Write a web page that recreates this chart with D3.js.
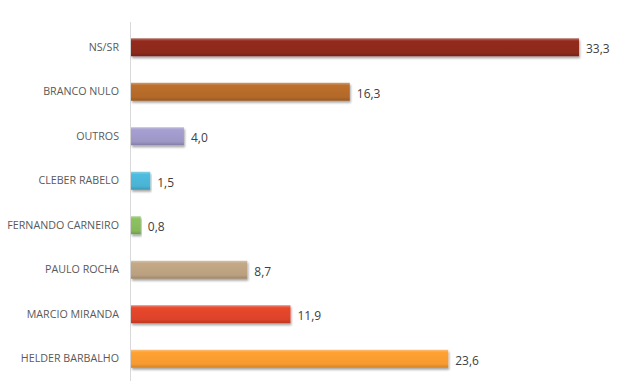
<!DOCTYPE html>
<html>
<head>
<meta charset="utf-8">
<script src="https://cdn.jsdelivr.net/npm/d3@7"></script>
<style>
body{margin:0;background:#fff;}
svg{display:block;}
</style>
</head>
<body>
<svg id="chart" width="621" height="381"></svg>
<script>
const categories = ["NS/SR","BRANCO NULO","OUTROS","CLEBER RABELO","FERNANDO CARNEIRO","PAULO ROCHA","MARCIO MIRANDA","HELDER BARBALHO"];
const values = [33.3,16.3,4.0,1.5,0.8,8.7,11.9,23.6];
const valueLabels = ["33,3","16,3","4,0","1,5","0,8","8,7","11,9","23,6"];
const colors = ["#8c2a1d","#b3692b","#9d97c6","#4ab3d4","#86b85b","#baa07f","#dc4329","#f69a30"];

const svg = d3.select("#chart");
const x = d3.scaleLinear().domain([0,33.3]).range([130,579]);
const y = d3.scaleBand().domain(categories).range([25,381]).paddingInner(0.6).paddingOuter(0.3);

const defs = svg.append("defs");
colors.forEach((c,i)=>{
  const g = defs.append("linearGradient").attr("id","g"+i).attr("x1",0).attr("y1",0).attr("x2",0).attr("y2",1);
  const base = d3.color(c);
  g.append("stop").attr("offset","0%").attr("stop-color",d3.interpolateRgb(c,"#fff")(0.35));
  g.append("stop").attr("offset","15%").attr("stop-color",base.brighter(0.15));
  g.append("stop").attr("offset","80%").attr("stop-color",c);
  g.append("stop").attr("offset","100%").attr("stop-color",base.darker(0.5));
});
const f = defs.append("filter").attr("id","sh").attr("x","-5%").attr("y","-20%").attr("width","110%").attr("height","160%");
f.append("feDropShadow").attr("dx",1).attr("dy",2).attr("stdDeviation",1).attr("flood-color","#000").attr("flood-opacity",0.35);

// axis line
svg.append("line").attr("x1",130.5).attr("x2",130.5).attr("y1",22).attr("y2",381).attr("stroke","#d9d9d9").attr("stroke-width",1);

const bh = 18;
svg.selectAll("rect.bar").data(categories).enter().append("rect")
  .attr("class","bar")
  .attr("x",x(0)+1)
  .attr("y",d=>y(d)+y.bandwidth()/2-bh/2)
  .attr("width",(d,i)=>x(values[i])-x(0)-1)
  .attr("height",bh)
  .attr("fill",(d,i)=>"url(#g"+i+")")
  .attr("filter","url(#sh)");

svg.selectAll("text.cat").data(categories).enter().append("text")
  .attr("class","cat")
  .attr("x",119)
  .attr("y",d=>y(d)+y.bandwidth()/2)
  .attr("dy","0.35em")
  .attr("text-anchor","end")
  .attr("font-family","'Open Sans', sans-serif")
  .attr("font-size",10.7)
  .attr("fill","#595959")
  .text(d=>d);

svg.selectAll("text.val").data(categories).enter().append("text")
  .attr("class","val")
  .attr("x",(d,i)=>x(values[i])+7)
  .attr("y",d=>y(d)+y.bandwidth()/2+2)
  .attr("dy","0.35em")
  .attr("font-family","'Open Sans', sans-serif")
  .attr("font-size",12)
  .attr("fill","#404040")
  .text((d,i)=>valueLabels[i]);
</script>
</body>
</html>
